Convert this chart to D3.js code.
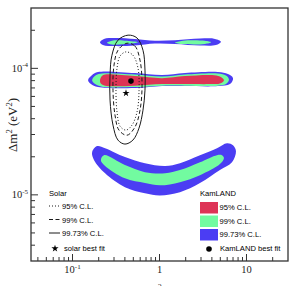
<!DOCTYPE html>
<html>
<head>
<meta charset="utf-8">
<script src="https://cdn.jsdelivr.net/npm/d3@7"></script>
<style>
  body { margin: 0; background: #fff; }
  svg { display: block; }
</style>
</head>
<body>
<div id="chart"></div>
<script>
// contours: [tan^2 theta, dm^2 in 1e-5 eV^2]
var kamBlueLow = [[0.168,2.17],[0.191,2.43],[0.237,2.34],[0.401,1.99],[0.681,1.78],[1.16,1.69],[1.72,1.78],[2.92,2.06],[4.58,2.34],[5.97,2.56],[7.00,2.47],[7.57,2.21],[6.81,1.81],[4.95,1.57],[2.92,1.24],[1.72,1.05],[1.01,0.99],[0.681,1.03],[0.401,1.15],[0.237,1.48],[0.177,1.88]];
var kamGreenLow = [[0.212,1.88],[0.230,2.06],[0.401,1.72],[0.681,1.51],[1.16,1.48],[1.72,1.57],[2.92,1.81],[4.58,2.06],[5.22,2.06],[5.51,1.96],[4.95,1.75],[2.92,1.43],[1.72,1.26],[1.01,1.19],[0.681,1.24],[0.401,1.35],[0.237,1.69]];
var kamBlueMid = [[0.151,8.07],[0.168,8.85],[0.196,9.35],[0.522,9.18],[1.07,8.85],[1.96,9.18],[4.70,9.35],[6.12,9.01],[7.00,8.37],[6.46,7.51],[4.70,7.24],[1.96,7.24],[1.07,7.24],[0.522,6.98],[0.196,7.11],[0.163,7.51]];
var kamGreenMid = [[0.168,8.07],[0.187,8.85],[0.218,9.10],[0.522,8.93],[1.07,8.61],[1.96,8.93],[4.70,9.10],[5.81,8.77],[6.29,8.15],[5.81,7.51],[4.70,7.30],[1.96,7.30],[1.07,7.30],[0.522,7.11],[0.218,7.17],[0.182,7.51]];
var kamRedMid = [[0.207,8.07],[0.218,8.69],[0.237,8.93],[0.522,8.69],[1.07,8.37],[1.96,8.69],[4.01,8.85],[4.95,8.61],[5.51,8.07],[4.95,7.58],[4.01,7.51],[1.96,7.51],[1.07,7.51],[0.522,7.30],[0.237,7.30],[0.212,7.58]];
var kamBlueHigh = [[0.207,16.1],[0.230,17.1],[0.308,17.4],[0.522,17.1],[0.887,16.55],[1.51,16.7],[2.92,17.2],[4.34,17.1],[5.09,16.25],[4.46,15.3],[2.92,15.15],[1.51,15.6],[0.887,15.7],[0.522,15.15],[0.308,15.0],[0.224,15.3]];
var kamGreenHighA = [[0.249,15.95],[0.284,16.55],[0.401,16.55],[0.566,16.1],[0.458,15.7],[0.284,15.45]];
var kamGreenHighB = [[1.51,15.95],[1.86,16.55],[3.33,16.55],[3.91,16.1],[3.33,15.6],[1.86,15.55]];

var solar9973 = [[0.435,18.3],[0.551,17.4],[0.646,13.9],[0.681,9.69],[0.681,6.73],[0.646,4.67],[0.581,3.37],[0.495,2.71],[0.401,2.52],[0.333,2.71],[0.292,3.56],[0.270,5.61],[0.270,8.85],[0.284,12.7],[0.333,16.7]];
var solar99 = [[0.423,15.8],[0.522,15.0],[0.597,11.6],[0.630,7.37],[0.597,4.67],[0.522,3.43],[0.423,2.96],[0.342,3.25],[0.308,4.27],[0.292,6.73],[0.300,10.6],[0.333,13.9]];
var solar95 = [[0.412,13.5],[0.495,12.7],[0.566,10.05],[0.581,6.49],[0.551,4.51],[0.483,3.56],[0.412,3.25],[0.352,3.49],[0.325,4.51],[0.316,6.73],[0.325,10.05],[0.352,12.5]];

var kamBest = [0.470, 7.93];
var solarBest = [0.412, 6.37];

var xMajor = [0.1, 1, 10];
var xMajorLabels = [["10", "-1"], ["1", ""], ["10", ""]];
var yMajor = [1e-5, 1e-4];
var yMajorLabels = [["10", "-5"], ["10", "-4"]];

var levels = ["95% C.L.", "99% C.L.", "99.73% C.L."];
var kamColors = ["#de3456", "#72fba0", "#4b3df3"];
var solarDash = ["1,2", "4,2.5", null];

(function () {
    var width = 307, height = 286;
    var pl = 31, pr = 288, pt = 8, pb = 261;

    var svg = d3.select("#chart").append("svg")
        .attr("width", width)
        .attr("height", height);

    var x = d3.scaleLog().domain([1 / 30, 30]).range([pl, pr]);
    var y = d3.scaleLog().domain([3e-6, 3e-4]).range([pb, pt]);

    var line = d3.line()
        .x(d => x(d[0]))
        .y(d => y(d[1] * 1e-5))
        .curve(d3.curveCatmullRomClosed.alpha(0.5));

    var regions = [
        [kamBlueLow, 2], [kamGreenLow, 1],
        [kamBlueMid, 2], [kamGreenMid, 1], [kamRedMid, 0],
        [kamBlueHigh, 2], [kamGreenHighA, 1], [kamGreenHighB, 1]
    ];
    svg.append("g").selectAll("path")
        .data(regions)
        .join("path")
        .attr("d", d => line(d[0]))
        .attr("fill", d => kamColors[d[1]]);

    var solar = [[solar95, 0], [solar99, 1], [solar9973, 2]];
    svg.append("g").selectAll("path")
        .data(solar)
        .join("path")
        .attr("d", d => line(d[0]))
        .attr("fill", "none")
        .attr("stroke", "#1a1a1a")
        .attr("stroke-width", 1)
        .attr("stroke-dasharray", d => solarDash[d[1]]);

    // best fits
    svg.append("circle")
        .attr("cx", x(kamBest[0]))
        .attr("cy", y(kamBest[1] * 1e-5))
        .attr("r", 2.8)
        .attr("fill", "#000");
    svg.append("path")
        .attr("d", d3.symbol().type(d3.symbolStar).size(16)())
        .attr("transform", `translate(${x(solarBest[0])},${y(solarBest[1] * 1e-5)})`)
        .attr("fill", "#000");

    // frame
    svg.append("rect")
        .attr("x", pl).attr("y", pt)
        .attr("width", pr - pl).attr("height", pb - pt)
        .attr("fill", "none")
        .attr("stroke", "#333")
        .attr("stroke-width", 1.3);

    // ticks
    var tickG = svg.append("g").attr("stroke", "#333").attr("stroke-width", 1);
    x.ticks().filter(t => t > x.domain()[0] && t < x.domain()[1]).forEach(function (t) {
        var major = xMajor.some(m => Math.abs(m - t) / m < 1e-6);
        tickG.append("line")
            .attr("x1", x(t)).attr("x2", x(t))
            .attr("y1", pb).attr("y2", pb - (major ? 7 : 4));
    });
    y.ticks().filter(t => t > y.domain()[0] * 1.001 && t < y.domain()[1] * 0.999).forEach(function (t) {
        var major = yMajor.some(m => Math.abs(m - t) / m < 1e-6);
        tickG.append("line")
            .attr("y1", y(t)).attr("y2", y(t))
            .attr("x1", pl).attr("x2", pl + (major ? 7 : 4));
    });

    var serif = "'Liberation Serif', 'DejaVu Serif', serif";
    var sans = "'Liberation Sans', Arial, sans-serif";

    xMajor.forEach(function (t, i) {
        var tx = svg.append("text")
            .attr("x", x(t)).attr("y", 273)
            .attr("text-anchor", "middle")
            .attr("font-family", serif).attr("font-size", 10.5)
            .attr("fill", "#222");
        tx.append("tspan").text(xMajorLabels[i][0]);
        if (xMajorLabels[i][1]) {
            tx.append("tspan").attr("dy", -4.5).attr("font-size", 7).text(xMajorLabels[i][1]);
        }
    });
    yMajor.forEach(function (t, i) {
        var tx = svg.append("text")
            .attr("x", 28).attr("y", y(t) + 3.5)
            .attr("text-anchor", "end")
            .attr("font-family", serif).attr("font-size", 10.5)
            .attr("fill", "#222");
        tx.append("tspan").text(yMajorLabels[i][0]);
        tx.append("tspan").attr("dy", -4.5).attr("font-size", 7).text(yMajorLabels[i][1]);
    });

    // axis titles
    var yt = svg.append("text")
        .attr("transform", "translate(17,125) rotate(-90)")
        .attr("text-anchor", "middle")
        .attr("font-family", serif).attr("font-size", 13)
        .attr("fill", "#222");
    yt.append("tspan").text("Δm");
    yt.append("tspan").attr("dy", -5.5).attr("font-size", 8.5).text("2");
    yt.append("tspan").attr("dy", 5.5).text(" (eV");
    yt.append("tspan").attr("dy", -5.5).attr("font-size", 8.5).text("2");
    yt.append("tspan").attr("dy", 5.5).text(")");

    var xt = svg.append("text")
        .attr("x", 143).attr("y", 295)
        .attr("font-family", serif).attr("font-size", 12)
        .attr("fill", "#222");
    xt.append("tspan").text("tan");
    xt.append("tspan").attr("dy", -5).attr("font-size", 8).text("2");
    xt.append("tspan").attr("dy", 5).text("θ");

    // legends
    var fs = 7.6;
    svg.append("text").attr("x", 49).attr("y", 196)
        .attr("font-family", sans).attr("font-size", fs).text("Solar");
    levels.forEach(function (l, i) {
        var ly = 206 + i * 13.5;
        svg.append("line")
            .attr("x1", 49).attr("x2", 60)
            .attr("y1", ly).attr("y2", ly)
            .attr("stroke", "#1a1a1a").attr("stroke-width", 1)
            .attr("stroke-dasharray", solarDash[i]);
        svg.append("text").attr("x", 62).attr("y", ly + 3)
            .attr("font-family", sans).attr("font-size", fs).text(l);
    });
    svg.append("path")
        .attr("d", d3.symbol().type(d3.symbolStar).size(16)())
        .attr("transform", "translate(55,248.5)")
        .attr("fill", "#000");
    svg.append("text").attr("x", 64).attr("y", 251)
        .attr("font-family", sans).attr("font-size", fs).text("solar best fit");

    svg.append("text").attr("x", 200).attr("y", 196)
        .attr("font-family", sans).attr("font-size", fs).text("KamLAND");
    levels.forEach(function (l, i) {
        var ly = 202 + i * 13.5;
        svg.append("rect")
            .attr("x", 200).attr("y", ly)
            .attr("width", 18).attr("height", 11.5)
            .attr("fill", kamColors[i]);
        svg.append("text").attr("x", 219.5).attr("y", ly + 8)
            .attr("font-family", sans).attr("font-size", fs).text(l);
    });
    svg.append("circle").attr("cx", 209).attr("cy", 249).attr("r", 2.8).attr("fill", "#000");
    svg.append("text").attr("x", 220).attr("y", 251)
        .attr("font-family", sans).attr("font-size", fs).text("KamLAND best fit");
}());
</script>
</body>
</html>
